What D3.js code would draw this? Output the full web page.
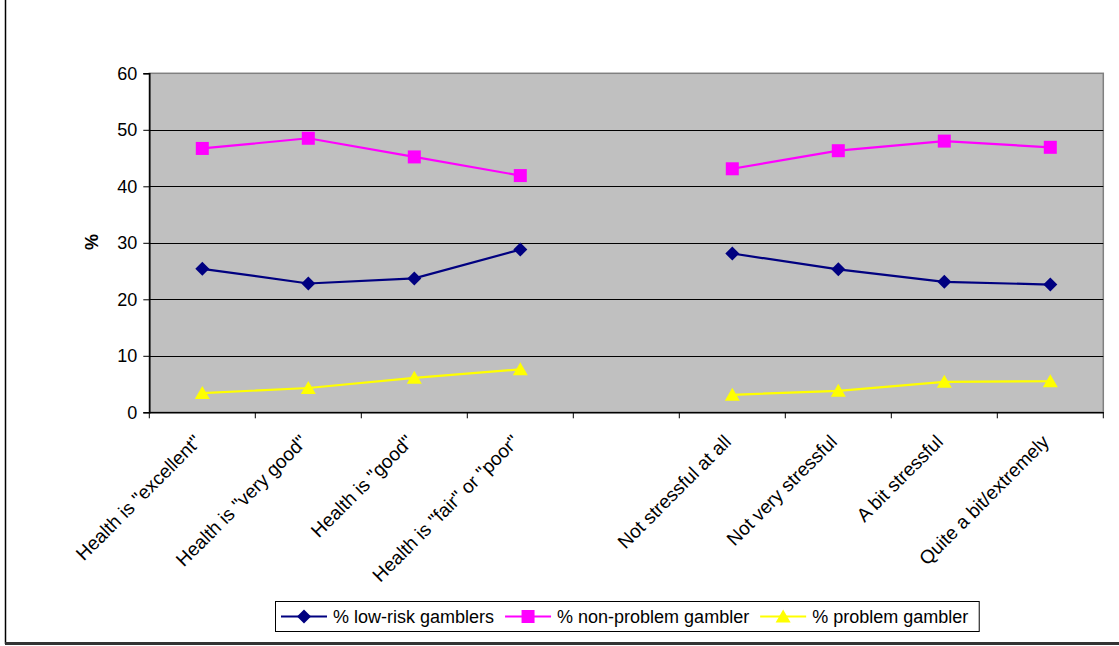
<!DOCTYPE html>
<html><head><meta charset="utf-8">
<script src="https://cdn.jsdelivr.net/npm/d3@7"></script>
<style>
html,body{margin:0;padding:0;background:#fff;}
svg{display:block;font-family:"Liberation Sans",Arial,sans-serif;}
</style></head>
<body>
<svg id="chart" width="1119" height="646"></svg>
<script>
const categories = ['Health is "excellent"','Health is "very good"','Health is "good"','Health is "fair" or "poor"','','Not stressful at all','Not very stressful','A bit stressful','Quite a bit/extremely'];
const lowRisk    = [25.4, 22.8, 23.7, 28.8, null, 28.1, 25.3, 23.1, 22.6];
const nonProblem = [46.7, 48.5, 45.2, 41.9, null, 43.1, 46.3, 48.0, 46.9];
const problem    = [3.4, 4.3, 6.1, 7.6, null, 3.1, 3.8, 5.4, 5.5];
const yTicks = [0, 10, 20, 30, 40, 50, 60];
const seriesNames = ["% low-risk gamblers", "% non-problem gambler", "% problem gambler"];

const series = [
  {name: seriesNames[0], values: lowRisk, color: "#000080", marker: "diamond"},
  {name: seriesNames[1], values: nonProblem, color: "#FF00FF", marker: "square"},
  {name: seriesNames[2], values: problem, color: "#FFFF00", marker: "triangle"}
];

const svg = d3.select("#chart");
const L = 149.3, R = 1103.3, T = 73.3, B = 412.3;
const x = d3.scaleBand().domain(d3.range(categories.length)).range([L, R]).padding(0);
const y = d3.scaleLinear().domain([0, 60]).range([B, T]);
const cx = i => x(i) + x.bandwidth() / 2;

// outer chart frame (cropped)
svg.append("line").attr("x1", 5.5).attr("x2", 5.5).attr("y1", 0).attr("y2", 644).attr("stroke", "#000").attr("stroke-width", 1.5);
svg.append("line").attr("x1", 5).attr("x2", 1119).attr("y1", 643.5).attr("y2", 643.5).attr("stroke", "#333").attr("stroke-width", 3);

// plot background
svg.append("rect").attr("x", L).attr("y", T).attr("width", R - L).attr("height", B - T)
  .attr("fill", "#C0C0C0").attr("stroke", "#808080").attr("stroke-width", 1.5);

// gridlines
svg.append("g").selectAll("line").data(yTicks.filter(t => t > 0 && t < 60)).join("line")
  .attr("x1", L).attr("x2", R).attr("y1", d => Math.round(y(d)) + 0.5).attr("y2", d => Math.round(y(d)) + 0.5)
  .attr("stroke", "#000").attr("stroke-width", 1);

// y axis
const yAxis = d3.axisLeft(y).tickValues(yTicks).tickSize(6).tickPadding(6).tickFormat(d3.format("d"));
const gy = svg.append("g").attr("transform", `translate(${L},0)`).call(yAxis);
gy.select(".domain").attr("stroke", "#000").attr("stroke-width", 1.5);
gy.selectAll(".tick line").attr("stroke", "#000");
gy.selectAll(".tick text").attr("font-size", 18).attr("fill", "#000").attr("font-family", '"Liberation Sans",Arial,sans-serif');

// x axis: ticks at band boundaries
const xAxis = d3.axisBottom(x).tickSize(0).tickFormat("");
const gx = svg.append("g").attr("transform", `translate(0,${B})`).call(xAxis);
gx.select(".domain").attr("stroke", "#000").attr("stroke-width", 1.5);
const bounds = d3.range(categories.length + 1).map(i => i < categories.length ? x(i) : R);
gx.selectAll(".btick").data(bounds).join("line").attr("class", "btick")
  .attr("x1", d => d).attr("x2", d => d).attr("y1", 0).attr("y2", 6).attr("stroke", "#000");

// category labels
svg.append("g").selectAll("text").data(categories.map((c, i) => ({c, i})).filter(d => d.c !== "")).join("text")
  .attr("transform", d => `translate(${cx(d.i)},443) rotate(-45)`)
  .attr("text-anchor", "end").attr("font-size", 19).attr("fill", "#000")
  .text(d => d.c);

// y title
svg.append("text").attr("transform", "translate(98,242) rotate(-90)").attr("text-anchor", "middle")
  .attr("font-size", 18).attr("font-weight", "bold").attr("fill", "#000").text("%");

// markers
function drawMarker(g, type, color) {
  if (type === "diamond") {
    g.append("path").attr("d", "M0,-7L7,0L0,7L-7,0Z").attr("fill", color);
  } else if (type === "square") {
    g.append("rect").attr("x", -6.5).attr("y", -6.5).attr("width", 13).attr("height", 13).attr("fill", color);
  } else {
    g.append("path").attr("d", "M0,-7L7.5,6L-7.5,6Z").attr("fill", color);
  }
}

const line = d3.line().defined(d => d.v != null).x(d => cx(d.i)).y(d => y(d.v));
series.forEach(s => {
  const pts = s.values.map((v, i) => ({v, i}));
  svg.append("path").datum(pts).attr("d", line).attr("fill", "none").attr("stroke", s.color).attr("stroke-width", 2.2);
  pts.filter(d => d.v != null).forEach(d => {
    const g = svg.append("g").attr("transform", `translate(${cx(d.i)},${y(d.v)})`);
    drawMarker(g, s.marker, s.color);
  });
});

// legend
const legend = svg.append("g");
const box = legend.append("rect").attr("x", 275.5).attr("y", 601.5).attr("width", 710).attr("height", 30)
  .attr("fill", "#fff").attr("stroke", "#000").attr("stroke-width", 1);
let lx = 281;
const ly = 616.5;
series.forEach(s => {
  legend.append("line").attr("x1", lx).attr("x2", lx + 46).attr("y1", ly).attr("y2", ly).attr("stroke", s.color).attr("stroke-width", 2.2);
  const g = legend.append("g").attr("transform", `translate(${lx + 23},${ly})`);
  drawMarker(g, s.marker, s.color);
  const t = legend.append("text").attr("x", lx + 52).attr("y", ly + 6.5).attr("font-size", 18).attr("fill", "#000").text(s.name);
  lx = lx + 52 + t.node().getComputedTextLength() + 11;
});
box.attr("width", lx - 275.5);
</script>
</body></html>
